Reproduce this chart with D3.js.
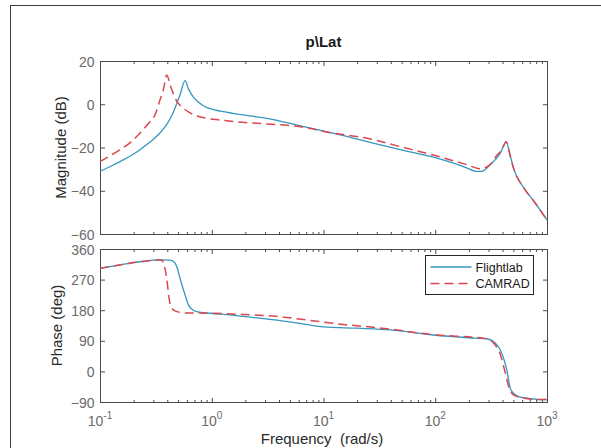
<!DOCTYPE html>
<html>
<head>
<meta charset="utf-8">
<script src="https://cdn.jsdelivr.net/npm/d3@7/dist/d3.min.js"></script>
<style>
    body { margin: 0; background: #fff; }
    svg { display: block; font-family: "Liberation Sans", Arial, sans-serif; }
</style>
</head>
<body>
<script>
// values (frequency in rad/s)
const magFreqFlightlab = [0.1, 0.13, 0.151, 0.19, 0.228, 0.28, 0.344, 0.40, 0.45, 0.52, 0.577, 0.62, 0.68, 0.74, 0.85, 1.0, 1.2, 1.55, 2.2, 3.1, 6.2, 12.2, 24.5, 48.5, 96, 150, 193, 230, 260, 310, 382, 431, 470, 505, 620, 754, 870, 1000];
const magFlightlab = [-31, -28.2, -26.5, -23.7, -21, -17.5, -13.3, -9, -4, 4.3, 10.9, 7, 3.5, 1.5, -0.8, -2.3, -3.2, -4.2, -5.4, -6.5, -10, -13.4, -17.3, -21, -24.5, -27.5, -29.5, -31, -31, -28, -22.6, -17.3, -24, -30, -38.7, -44.5, -49, -53.5];

const magFreqCamrad = [0.1, 0.151, 0.19, 0.228, 0.27, 0.31, 0.344, 0.37, 0.395, 0.43, 0.486, 0.553, 0.64, 0.738, 0.9, 1.19, 1.55, 3.1, 6.2, 12.2, 24.5, 48.5, 96, 193, 252, 300, 358, 400, 431, 470, 505, 620, 754, 870, 1000];
const magCamrad = [-26.5, -21, -17.4, -13.3, -9, -5, 2, 7, 13.5, 8, 1.5, -1.7, -4, -5.4, -6.5, -7.3, -8, -9.1, -10.4, -13.4, -15.7, -19.6, -23.5, -28, -29.8, -28.5, -23.5, -20.5, -17.3, -24.3, -30, -38.7, -44.5, -49, -53.5];

const phaseFreqFlightlab = [0.1, 0.15, 0.2, 0.25, 0.3, 0.36, 0.42, 0.46, 0.49, 0.52, 0.577, 0.62, 0.67, 0.73, 0.97, 1.46, 2, 4, 7, 10, 20, 40, 96, 200, 289, 340, 382, 437, 470, 505, 560, 660, 800, 1000];
const phaseFlightlab = [303, 313, 320, 324, 327, 328, 327, 322, 305, 274, 225, 195, 182, 176, 171, 166, 161, 150, 138, 131, 127, 122, 107, 99, 96, 85, 63, 4, -50, -65, -74, -79, -82, -84];

const phaseFreqCamrad = [0.1, 0.15, 0.2, 0.25, 0.3, 0.34, 0.36, 0.38, 0.395, 0.42, 0.453, 0.5, 0.556, 0.97, 2, 4, 8, 15, 32, 96, 289, 340, 382, 420, 460, 505, 660, 800, 1000];
const phaseCamrad = [303, 313, 320, 324, 327, 328, 326, 305, 274, 205, 181, 175, 172, 171, 167, 161, 149, 138, 128, 108, 96, 80, 50, 0, -50, -70, -80, -83, -82];

const magTicks = [20, 0, -20, -40, -60];
const phaseTicks = [360, 270, 180, 90, 0, -90];
const freqTicks = [0.1, 1, 10, 100, 1000];
const seriesNames = ["Flightlab", "CAMRAD"];
const seriesColors = ["#3597c0", "#d9474f"];

const width = 601, height = 448;
const left = 100, right = 547;
const magTop = 61, magBottom = 234;
const phaseTop = 249, phaseBottom = 402;

const svg = d3.select("body").append("svg")
    .attr("width", width)
    .attr("height", height);

// figure frame (only top and left edge show in the picture)
svg.append("rect")
    .attr("x", 10.5).attr("y", 5.5)
    .attr("width", 700).attr("height", 600)
    .attr("fill", "none").attr("stroke", "#3c3c3c");

const x = d3.scaleLog().domain([0.1, 1000]).range([left, right]);
const yMag = d3.scaleLinear().domain([-60, 20]).range([magBottom, magTop]);
const yPhase = d3.scaleLinear().domain([-90, 360]).range([phaseBottom, phaseTop]);

// minor log ticks 2..9 in each decade
let minorTicks = [];
for (let e = -1; e < 3; e++) {
    for (let m = 2; m < 10; m++) minorTicks.push(m * Math.pow(10, e));
}

function drawPanel(y, top, bottom, yTicks, showXLabels) {
    let g = svg.append("g").attr("class", "panel");

    g.append("rect")
        .attr("x", left + 0.5).attr("y", top + 0.5)
        .attr("width", right - left).attr("height", bottom - top)
        .attr("fill", "#fff");

    // major and minor x ticks, bottom and top, pointing inward
    [[d3.axisBottom, bottom], [d3.axisTop, top]].forEach(function(a) {
        let major = g.append("g")
            .attr("transform", "translate(0," + (a[1] + 0.5) + ")")
            .call(a[0](x).tickValues(freqTicks).tickSizeInner(-4.5).tickSizeOuter(0).tickFormat(""));
        let minor = g.append("g")
            .attr("transform", "translate(0," + (a[1] + 0.5) + ")")
            .call(a[0](x).tickValues(minorTicks).tickSizeInner(-2.5).tickSizeOuter(0).tickFormat(""));
        [major, minor].forEach(function(s) { s.select(".domain").remove(); });
    });

    // y ticks left (labelled) and right
    let yl = g.append("g")
        .attr("transform", "translate(" + (left + 0.5) + ",0)")
        .call(d3.axisLeft(y).tickValues(yTicks).tickSizeInner(-4.5).tickSizeOuter(0).tickPadding(6));
    yl.select(".domain").remove();
    yl.selectAll("text")
        .attr("font-size", 14)
        .attr("font-family", "Liberation Sans, Arial, sans-serif")
        .attr("fill", "#6a6a6a")
        .attr("dy", "0.36em");

    let yr = g.append("g")
        .attr("transform", "translate(" + (right + 0.5) + ",0)")
        .call(d3.axisRight(y).tickValues(yTicks).tickSizeInner(-4.5).tickSizeOuter(0).tickFormat(""));
    yr.select(".domain").remove();

    g.selectAll(".tick line").attr("stroke", "#4a4a4a");

    g.append("rect")
        .attr("x", left + 0.5).attr("y", top + 0.5)
        .attr("width", right - left).attr("height", bottom - top)
        .attr("fill", "none").attr("stroke", "#4a4a4a");

    if (showXLabels) {
        let labels = g.append("g").selectAll("text")
            .data(freqTicks)
            .enter().append("text")
            .attr("x", function(d) { return x(d); })
            .attr("y", bottom + 24)
            .attr("text-anchor", "middle")
            .attr("font-size", 14)
            .attr("fill", "#6a6a6a");
        labels.append("tspan").text("10");
        labels.append("tspan")
            .attr("font-size", 10)
            .attr("dy", -7)
            .text(function(d) { return String(Math.round(Math.log10(d))); });
    }
    return g;
}

drawPanel(yMag, magTop, magBottom, magTicks, false);
drawPanel(yPhase, phaseTop, phaseBottom, phaseTicks, true);

function zip(xs, ys) {
    return xs.map(function(v, i) { return [v, ys[i]]; });
}

function drawLine(data, y, color, dashed) {
    let line = d3.line()
        .x(function(d) { return x(d[0]); })
        .y(function(d) { return y(d[1]); })
        .curve(d3.curveMonotoneX);
    svg.append("path")
        .datum(data)
        .attr("d", line)
        .attr("fill", "none")
        .attr("stroke", color)
        .attr("stroke-width", dashed ? 1.5 : 1.3)
        .attr("stroke-dasharray", dashed ? "9,5" : null);
}

drawLine(zip(magFreqFlightlab, magFlightlab), yMag, seriesColors[0], false);
drawLine(zip(magFreqCamrad, magCamrad), yMag, seriesColors[1], true);
drawLine(zip(phaseFreqFlightlab, phaseFlightlab), yPhase, seriesColors[0], false);
drawLine(zip(phaseFreqCamrad, phaseCamrad), yPhase, seriesColors[1], true);

// titles and axis labels
svg.append("text")
    .attr("x", (left + right) / 2).attr("y", 47)
    .attr("text-anchor", "middle")
    .attr("font-size", 15).attr("font-weight", "bold")
    .attr("fill", "#1a1a1a")
    .text("p\\Lat");

svg.append("text")
    .attr("transform", "translate(66," + (magTop + magBottom) / 2 + ") rotate(-90)")
    .attr("text-anchor", "middle")
    .attr("font-size", 15).attr("fill", "#2a2a2a")
    .text("Magnitude (dB)");

svg.append("text")
    .attr("transform", "translate(62," + (phaseTop + phaseBottom) / 2 + ") rotate(-90)")
    .attr("text-anchor", "middle")
    .attr("font-size", 15).attr("fill", "#2a2a2a")
    .text("Phase (deg)");

svg.append("text")
    .attr("x", 322).attr("y", 444)
    .attr("text-anchor", "middle")
    .attr("font-size", 15).attr("fill", "#2a2a2a")
    .attr("xml:space", "preserve")
    .style("white-space", "pre")
    .text("Frequency  (rad/s)");

// legend
let legend = svg.append("g").attr("transform", "translate(425.5,255.5)");
legend.append("rect")
    .attr("width", 108).attr("height", 39)
    .attr("fill", "#fff").attr("stroke", "#262626");
seriesNames.forEach(function(name, i) {
    let ly = 11.5 + i * 16.5;
    legend.append("line")
        .attr("x1", 5).attr("x2", 46)
        .attr("y1", ly).attr("y2", ly)
        .attr("stroke", seriesColors[i])
        .attr("stroke-width", i ? 1.5 : 1.3)
        .attr("stroke-dasharray", i ? "9,5" : null);
    legend.append("text")
        .attr("x", 50).attr("y", ly + 4.5)
        .attr("font-size", 12.5).attr("fill", "#1a1a1a")
        .text(name);
});
</script>
</body>
</html>
